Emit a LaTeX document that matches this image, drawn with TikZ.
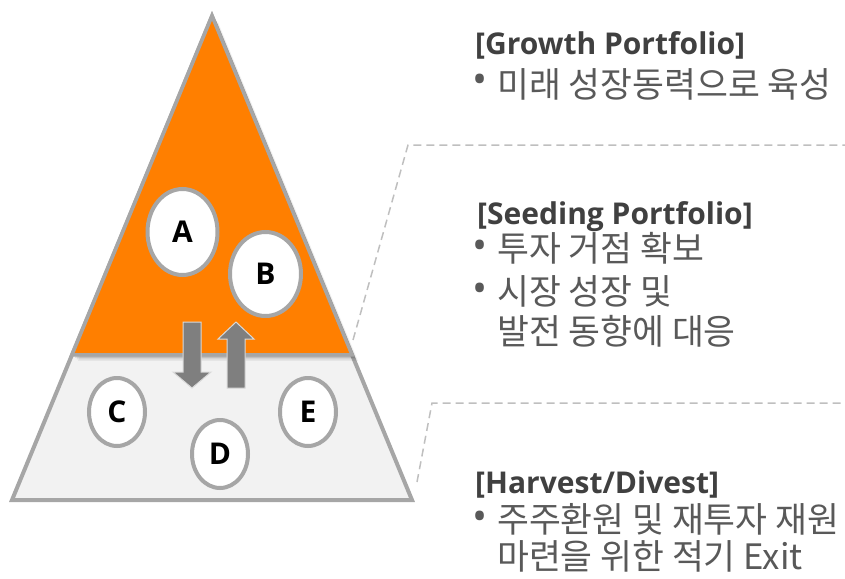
\documentclass[tikz,border=0pt]{standalone}
\usepackage{fontspec}
\setmainfont{Open Sans}
\newfontfamily\kr{Noto Sans CJK KR}[FakeStretch=0.99]
\usetikzlibrary{shapes.geometric,calc}
\definecolor{orng}{HTML}{FF7F00}
\definecolor{bord}{HTML}{A6A6A6}
\definecolor{lgray}{HTML}{F2F2F2}
\definecolor{arr}{HTML}{7F7F7F}
\definecolor{dashc}{HTML}{BFBFBF}
\definecolor{headc}{HTML}{404040}
\definecolor{bodyc}{HTML}{595959}
\begin{document}
\begin{tikzpicture}[x=1pt,y=-1pt,
  oval/.style={ellipse,draw=bord,line width=4pt,fill=white,inner sep=0pt,font=\bfseries\fontsize{30}{30}\selectfont},
  bigoval/.style={oval,minimum width=70pt,minimum height=86pt},
  smalloval/.style={oval,minimum width=56pt,minimum height=68pt},
  hd/.style={anchor=base west,inner sep=0pt,text=headc,font=\bfseries\fontsize{30}{30}\selectfont},
  kt/.style={anchor=base west,inner sep=0pt,text=bodyc,font=\kr\fontsize{35}{35}\selectfont},
  bul/.style={inner sep=0pt,text=bodyc,font=\fontsize{40}{40}\selectfont},
  guide/.style={draw=dashc,line width=1.5pt,dash pattern=on 8pt off 5pt},
  arrowshape/.style={fill=arr,draw=black!15,line width=1pt,line join=miter}]
\useasboundingbox (0,0) rectangle (845,578);
% pyramid
\coordinate (apex) at (212,16);
\coordinate (bl) at (12,500);
\coordinate (br) at (412,500);
\coordinate (ol) at ($(apex)!0.7!(bl)$);
\coordinate (or) at ($(apex)!0.7!(br)$);
\draw[bord,line width=4pt,fill=lgray] (apex)--(br)--(bl)--cycle;
% shadow of upper part
\foreach \s/\o in {6/0.05,4.5/0.07,3/0.09,1.5/0.1}{
  \fill[black,opacity=\o] ([shift={(\s,\s)}]apex)--([shift={(\s,\s)}]or)--([shift={(\s,\s)}]ol)--cycle;
}
\draw[bord,line width=3.5pt,fill=orng] (apex)--(or)--(ol)--cycle;
% circles
\node[bigoval] (A) at (182.5,232) {A};
\node[oval,minimum width=71pt,minimum height=84pt] (B) at (265.5,274) {B};
\node[smalloval] (C) at (117,412) {C};
\node[smalloval] (D) at (220,454) {D};
\node[smalloval] (E) at (308,412) {E};
% arrows
\draw[arrowshape] (183,322)--(201,322)--(201,372)--(211,372)--(192,388)--(173,372)--(183,372)--cycle;
\draw[arrowshape] (236,322)--(254,339)--(245,339)--(245,388)--(227,388)--(227,339)--(218,339)--cycle;
% guides
\coordinate (g1) at (353,340);
\coordinate (g2) at (408,145);
\coordinate (g3) at (845,145);
\draw[guide] (g1)--(g2)--(g3);
\coordinate (h1) at (417,482);
\coordinate (h2) at (432,403);
\coordinate (h3) at (845,403);
\draw[guide] (h1)--(h2)--(h3);
% texts
\node[hd] (gh) at (475,55) {[Growth Portfolio]};
\node[bul] (gb) at (480,84) {•};
\node[kt] (gt) at (497,97) {미래 성장동력으로 육성};
\node[hd] (sh) at (477,224) {[Seeding Portfolio]};
\node[bul] (sb1) at (480,250) {•};
\node[kt] (st1) at (497,261) {투자 거점 확보};
\node[bul] (sb2) at (480,293) {•};
\node[kt] (st2) at (497,304) {시장 성장 및};
\node[kt] (st3) at (497,344) {발전 동향에 대응};
\node[hd] (hh) at (475,493) {[Harvest/Divest]};
\node[bul] (hb) at (480,521) {•};
\node[kt] (ht1) at (497,532) {주주환원 및 재투자 재원};
\node[kt] (ht2) at (497,569) {마련을 위한 적기 Exit};
\end{tikzpicture}
\end{document}
